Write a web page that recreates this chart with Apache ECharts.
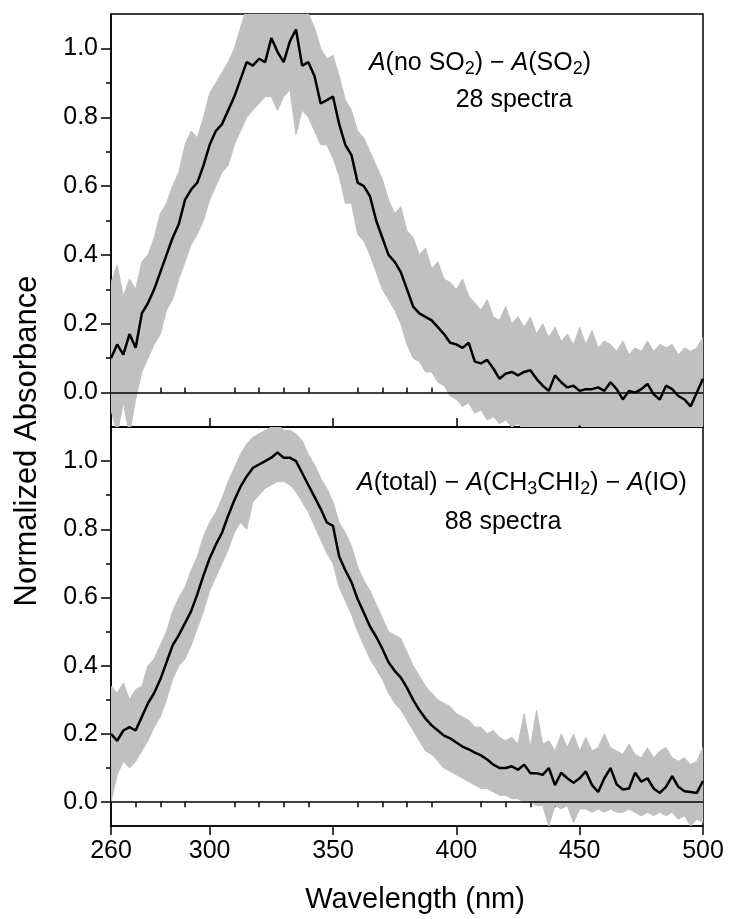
<!DOCTYPE html>
<html>
<head>
<meta charset="utf-8">
<script src="https://cdn.jsdelivr.net/npm/echarts@6/dist/echarts.min.js"></script>
<style>
html,body{margin:0;padding:0;background:#fff;}
#chart{width:729px;height:919px;}
</style>
</head>
<body>
<div id="chart"></div>
<script>
// Wavelength sampling grid (nm), 2.5 nm steps from 260 to 500
const wavelength = Array.from({length: 97}, (_, i) => 260 + 2.5 * i);

// Top panel: A(no SO2) - A(SO2), 28 spectra
const topMean = [
  0.10,0.14,0.11,0.17,0.13,0.23,0.26,0.30,0.35,0.40,
  0.45,0.49,0.56,0.59,0.61,0.66,0.72,0.76,0.78,0.82,
  0.86,0.91,0.96,0.95,0.97,0.96,1.03,0.99,0.96,1.02,
  1.055,0.95,0.96,0.92,0.84,0.85,0.86,0.78,0.72,0.69,
  0.61,0.60,0.57,0.50,0.45,0.40,0.38,0.35,0.30,0.25,
  0.23,0.22,0.21,0.19,0.17,0.145,0.14,0.13,0.145,0.09,
  0.085,0.095,0.07,0.04,0.055,0.06,0.05,0.06,0.065,0.04,
  0.02,0.005,0.05,0.03,0.015,0.02,0.005,0.01,0.01,0.015,
  0.005,0.03,0.01,-0.02,0.005,0.0,0.01,0.025,-0.005,-0.02,
  0.02,0.01,-0.01,-0.02,-0.04,0.0,0.04
];
const topUpper = [
  0.32,0.37,0.28,0.33,0.30,0.38,0.40,0.45,0.52,0.55,
  0.60,0.64,0.72,0.76,0.74,0.80,0.87,0.90,0.93,0.96,
  1.00,1.06,1.12,1.10,1.12,1.12,1.15,1.12,1.13,1.15,
  1.15,1.12,1.10,1.06,1.00,0.97,0.98,0.92,0.85,0.82,
  0.76,0.74,0.70,0.66,0.62,0.56,0.52,0.54,0.47,0.45,
  0.40,0.42,0.36,0.38,0.33,0.32,0.30,0.33,0.28,0.26,
  0.24,0.27,0.22,0.21,0.25,0.20,0.22,0.19,0.22,0.17,
  0.20,0.16,0.19,0.15,0.17,0.14,0.19,0.14,0.18,0.13,
  0.15,0.14,0.12,0.15,0.11,0.13,0.12,0.15,0.12,0.14,
  0.13,0.14,0.11,0.13,0.12,0.13,0.16
];
const topLower = [
  -0.05,-0.12,-0.03,-0.12,-0.02,0.06,0.10,0.14,0.17,0.24,
  0.27,0.33,0.38,0.43,0.46,0.50,0.56,0.60,0.64,0.66,
  0.72,0.76,0.80,0.82,0.84,0.86,0.86,0.82,0.86,0.88,
  0.75,0.82,0.80,0.76,0.72,0.72,0.68,0.63,0.55,0.55,
  0.46,0.44,0.40,0.35,0.30,0.27,0.24,0.20,0.14,0.10,
  0.09,0.06,0.06,0.03,0.02,-0.01,-0.02,-0.04,-0.03,-0.06,
  -0.05,-0.08,-0.07,-0.09,-0.08,-0.10,-0.09,-0.11,-0.10,-0.12,
  -0.11,-0.12,-0.10,-0.13,-0.11,-0.12,-0.09,-0.12,-0.11,-0.13,
  -0.10,-0.12,-0.11,-0.13,-0.10,-0.12,-0.11,-0.12,-0.10,-0.13,
  -0.11,-0.12,-0.10,-0.13,-0.11,-0.12,-0.10
];

// Bottom panel: A(total) - A(CH3CHI2) - A(IO), 88 spectra
const botMean = [
  0.20,0.18,0.21,0.22,0.21,0.25,0.29,0.32,0.36,0.41,
  0.46,0.49,0.525,0.56,0.61,0.665,0.715,0.755,0.79,0.84,
  0.885,0.925,0.955,0.98,0.99,1.0,1.01,1.025,1.01,1.01,
  1.0,0.965,0.93,0.895,0.86,0.82,0.81,0.72,0.68,0.645,
  0.595,0.555,0.515,0.485,0.45,0.41,0.385,0.365,0.335,0.30,
  0.27,0.245,0.225,0.21,0.195,0.187,0.175,0.163,0.155,0.145,
  0.137,0.125,0.11,0.10,0.10,0.105,0.095,0.11,0.085,0.085,
  0.08,0.10,0.05,0.086,0.07,0.057,0.07,0.09,0.05,0.03,
  0.07,0.10,0.052,0.037,0.04,0.086,0.06,0.07,0.04,0.027,
  0.045,0.076,0.045,0.032,0.03,0.027,0.062
];
const botUpper = [
  0.34,0.32,0.35,0.30,0.33,0.34,0.40,0.42,0.46,0.50,
  0.56,0.60,0.63,0.68,0.72,0.78,0.82,0.85,0.89,0.94,
  0.98,1.02,1.05,1.07,1.08,1.09,1.10,1.11,1.09,1.09,
  1.08,1.06,1.02,0.99,0.95,0.92,0.88,0.82,0.79,0.75,
  0.69,0.65,0.62,0.58,0.54,0.50,0.49,0.48,0.44,0.40,
  0.37,0.34,0.32,0.30,0.29,0.28,0.26,0.25,0.24,0.22,
  0.22,0.20,0.21,0.19,0.18,0.19,0.17,0.26,0.16,0.27,
  0.17,0.18,0.15,0.20,0.16,0.20,0.15,0.19,0.15,0.16,
  0.20,0.16,0.15,0.14,0.17,0.14,0.13,0.16,0.13,0.15,
  0.16,0.13,0.12,0.13,0.11,0.12,0.16
];
const botLower = [
  0.0,0.08,0.12,0.10,0.12,0.15,0.18,0.22,0.25,0.30,
  0.36,0.40,0.42,0.46,0.51,0.56,0.62,0.66,0.70,0.74,
  0.79,0.82,0.80,0.88,0.90,0.92,0.93,0.94,0.94,0.93,
  0.91,0.88,0.85,0.81,0.77,0.73,0.70,0.63,0.59,0.55,
  0.50,0.46,0.42,0.39,0.36,0.32,0.29,0.27,0.24,0.21,
  0.18,0.15,0.14,0.12,0.10,0.09,0.08,0.07,0.06,0.05,
  0.04,0.04,0.03,0.02,0.02,0.01,0.01,0.0,0.0,-0.01,
  -0.01,-0.07,-0.01,-0.02,-0.01,-0.06,-0.02,-0.02,-0.03,-0.02,
  -0.03,-0.02,-0.03,-0.03,-0.02,-0.03,-0.04,-0.03,-0.04,-0.03,
  -0.04,-0.03,-0.05,-0.04,-0.07,-0.05,-0.06
];

// Tick values
const xLabelTicks = [260, 300, 350, 400, 450, 500];
const xMajorInner = [300, 350, 400, 450];
const xMinorTicks = [270,280,290,310,320,330,340,360,370,380,390,410,420,430,440,460,470,480,490];
const yLabelTicks = [0, 0.2, 0.4, 0.6, 0.8, 1.0];
const yMinorTicks = [0.1, 0.3, 0.5, 0.7, 0.9];

const FONT = "'Liberation Sans', Arial, sans-serif";
const GRAY = '#c0c0c0';

const pairs = (ys) => wavelength.map((w, i) => [w, ys[i]]);

const chart = echarts.init(document.getElementById('chart'), null, {renderer: 'canvas'});

function xAxisDef(grid, opts) {
  return Object.assign({
    type: 'value', gridIndex: grid, min: 260, max: 500, position: 'bottom',
    splitLine: {show: false},
    axisLine: {show: true, onZero: false, lineStyle: {color: '#000', width: 1.5}},
    axisLabel: {show: false},
    axisTick: {show: false}
  }, opts);
}
function yAxisDef(grid, min, opts) {
  return Object.assign({
    type: 'value', gridIndex: grid, min: min, max: 1.1, position: 'left',
    splitLine: {show: false},
    axisLine: {show: true, onZero: false, lineStyle: {color: '#000', width: 1.5}},
    axisLabel: {show: false},
    axisTick: {show: false}
  }, opts);
}

// Band (envelope of the individual spectra) drawn as one polygon through the axes' coord system
function bandSeries(xi, yi, lower, upper) {
  return {
    type: 'custom', xAxisIndex: xi, yAxisIndex: yi, clip: true, silent: true, z: 1,
    data: wavelength.map((w, i) => [w, lower[i], upper[i]]),
    encode: {x: 0, y: [1, 2]},
    renderItem: function (params, api) {
      if (params.dataIndex !== 0) return null;
      const pts = [];
      for (let i = 0; i < wavelength.length; i++) pts.push(api.coord([wavelength[i], upper[i]]));
      for (let i = wavelength.length - 1; i >= 0; i--) pts.push(api.coord([wavelength[i], lower[i]]));
      return {type: 'polygon', shape: {points: pts}, style: {fill: GRAY, stroke: GRAY, lineWidth: 1}};
    }
  };
}

const option = {
  animation: false,
  backgroundColor: '#fff',
  grid: [
    {left: 111, right: 26, top: 14, height: 413, show: true, borderColor: '#000', borderWidth: 1.5, backgroundColor: 'transparent'},
    {left: 111, right: 26, top: 427, height: 399, show: true, borderColor: '#000', borderWidth: 1.5, backgroundColor: 'transparent'}
  ],
  xAxis: [
    xAxisDef(0, {axisTick: {show: true, inside: true, length: 9, customValues: xMajorInner, lineStyle: {color: '#000', width: 1.5}}}),
    xAxisDef(0, {axisLine: {show: false}, axisTick: {show: true, inside: true, length: 5, customValues: xMinorTicks, lineStyle: {color: '#000', width: 1.5}}}),
    xAxisDef(1, {
      axisTick: {show: true, inside: false, length: 9, customValues: xLabelTicks, lineStyle: {color: '#000', width: 1.5}},
      axisLabel: {show: true, customValues: xLabelTicks, margin: 13, fontSize: 25, color: '#000', fontFamily: FONT, showMinLabel: true, showMaxLabel: true}
    }),
    xAxisDef(1, {axisLine: {show: false}, axisTick: {show: true, inside: false, length: 5, customValues: xMinorTicks, lineStyle: {color: '#000', width: 1.5}}})
  ],
  yAxis: [
    yAxisDef(0, -0.1, {
      axisTick: {show: true, inside: false, length: 10, customValues: yLabelTicks, lineStyle: {color: '#000', width: 1.5}},
      axisLabel: {show: true, customValues: yLabelTicks, margin: 13, fontSize: 25, color: '#000', fontFamily: FONT, formatter: v => v.toFixed(1)}
    }),
    yAxisDef(0, -0.1, {axisLine: {show: false}, axisTick: {show: true, inside: false, length: 5, customValues: yMinorTicks, lineStyle: {color: '#000', width: 1.5}}}),
    yAxisDef(1, -0.07, {
      axisTick: {show: true, inside: false, length: 10, customValues: yLabelTicks, lineStyle: {color: '#000', width: 1.5}},
      axisLabel: {show: true, customValues: yLabelTicks, margin: 13, fontSize: 25, color: '#000', fontFamily: FONT, formatter: v => v.toFixed(1)}
    }),
    yAxisDef(1, -0.07, {axisLine: {show: false}, axisTick: {show: true, inside: false, length: 5, customValues: yMinorTicks, lineStyle: {color: '#000', width: 1.5}}})
  ],
  series: [
    bandSeries(0, 0, topLower, topUpper),
    {type: 'line', name: 'topMean', xAxisIndex: 0, yAxisIndex: 0, data: pairs(topMean),
      symbol: 'none', lineStyle: {color: '#000', width: 2.5}, z: 3,
      markLine: {silent: true, symbol: 'none', label: {show: false}, lineStyle: {color: '#000', width: 1.5, type: 'solid'}, data: [{yAxis: 0}]}},
    bandSeries(2, 2, botLower, botUpper),
    {type: 'line', name: 'botMean', xAxisIndex: 2, yAxisIndex: 2, data: pairs(botMean),
      symbol: 'none', lineStyle: {color: '#000', width: 2.5}, z: 3,
      markLine: {silent: true, symbol: 'none', label: {show: false}, lineStyle: {color: '#000', width: 1.5, type: 'solid'}, data: [{yAxis: 0}]}}
  ],
  graphic: (function () {
    const rich = {
      n: {fontSize: 25, fontFamily: FONT, fill: '#000', color: '#000', lineHeight: 30},
      i: {fontSize: 25, fontFamily: FONT, fontStyle: 'italic', fill: '#000', color: '#000', lineHeight: 30},
      s: {fontSize: 18, fontFamily: FONT, fill: '#000', color: '#000', lineHeight: 20, verticalAlign: 'bottom'}
    };
    function t(x, y, text) {
      return {
        type: 'text', x: x, y: y, silent: true, z: 10,
        style: {text: text, rich: rich, fontSize: 25, fontFamily: FONT, fill: '#000',
          align: 'center', verticalAlign: 'middle', textAlign: 'center', textVerticalAlign: 'middle'}
      };
    }
    return [
      t(480, 63, '{i|A}{n|(no SO}{s|2}{n|) − }{i|A}{n|(SO}{s|2}{n|)}'),
      t(514, 100, '{n|28 spectra}'),
      t(522, 483, '{i|A}{n|(total) − }{i|A}{n|(CH}{s|3}{n|CHI}{s|2}{n|) − }{i|A}{n|(IO)}'),
      t(503, 522, '{n|88 spectra}'),
      {type: 'text', x: 415, y: 900, silent: true,
        style: {text: 'Wavelength (nm)', fontSize: 29, fontFamily: FONT, fill: '#000',
          align: 'center', verticalAlign: 'middle', textAlign: 'center', textVerticalAlign: 'middle'}},
      {type: 'text', x: 27, y: 441, rotation: Math.PI / 2, silent: true,
        style: {text: 'Normalized Absorbance', fontSize: 31, fontFamily: FONT, fill: '#000',
          align: 'center', verticalAlign: 'middle', textAlign: 'center', textVerticalAlign: 'middle'}}
    ];
  })()
};
chart.setOption(option);
</script>
</body>
</html>
